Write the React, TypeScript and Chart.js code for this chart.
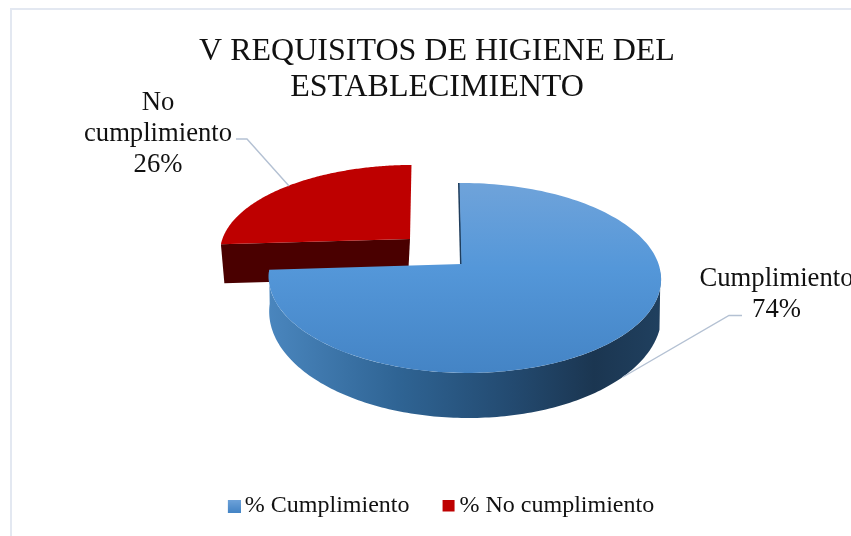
import React, { useEffect, useRef } from "react";
import { Chart, registerables } from "chart.js";

Chart.register(...registerables);

const titleLines = ["V REQUISITOS DE HIGIENE DEL", "ESTABLECIMIENTO"];
const legendLabels = ["% Cumplimiento", "% No cumplimiento"];
const sliceValues = [74, 26];
const sliceColors = ["#5497D9", "#BE0000"];
const sliceNameLines = [["Cumplimiento"], ["No", "cumplimiento"]];

const SERIF = "'Liberation Serif', 'Times New Roman', serif";
const K = -0.147;
const M = -0.0153;

type Geo = { ax: number; ay: number; rx: number; ry: number; s: number };
const blueTop: Geo = { ax: 461.5, ay: 264, rx: 194, ry: 92.9, s: 2.3 };
const blueBottom: Geo = { ax: 462, ay: 297.6, rx: 194, ry: 102.7, s: 2.3 };
const redTop: Geo = { ax: 410, ay: 239, rx: 190.5, ry: 85, s: -1.7 };
const redBottom: Geo = { ax: 408, ay: 278, rx: 185, ry: 84, s: -1.7 };

const project = (g: Geo, t: number) => {
  const u = Math.cos(t);
  const v = Math.sin(t);
  const w = 1 + K * v + M * u;
  return { x: g.ax + (g.rx * u + g.s * v) / w, y: g.ay + (g.ry * v) / w };
};

const traceArc = (ctx: CanvasRenderingContext2D, g: Geo, a: number, b: number, move: boolean) => {
  const steps = 160;
  for (let i = 0; i <= steps; i++) {
    const p = project(g, a + ((b - a) * i) / steps);
    if (i === 0 && move) ctx.moveTo(p.x, p.y);
    else ctx.lineTo(p.x, p.y);
  }
};

const drawFace = (ctx: CanvasRenderingContext2D, g: Geo, a: number, b: number, fill: string | CanvasGradient) => {
  ctx.beginPath();
  ctx.moveTo(g.ax, g.ay);
  traceArc(ctx, g, a, b, false);
  ctx.closePath();
  ctx.fillStyle = fill;
  ctx.fill();
};

const pie3d = {
  id: "pie3d",
  afterLayout(chart: any) {
    chart.legend.left += 15.5;
    chart.legend.right += 15.5;
    chart.titleBlock.left += 11.5;
    chart.titleBlock.right += 11.5;
  },
  beforeDraw(chart: any) {
    const ctx = chart.ctx;
    ctx.save();
    ctx.fillStyle = "#ffffff";
    ctx.fillRect(0, 0, chart.width, chart.height);
    ctx.strokeStyle = "#E3E8F1";
    ctx.lineWidth = 2;
    ctx.beginPath();
    ctx.moveTo(11, chart.height + 5);
    ctx.lineTo(11, 9);
    ctx.lineTo(chart.width + 5, 9);
    ctx.stroke();
    ctx.restore();
  },
  beforeDatasetDraw(chart: any) {
    const ctx: CanvasRenderingContext2D = chart.ctx;
    const arcs = chart.getDatasetMeta(0).data;
    const blue = arcs[0];
    const red = arcs[1];
    ctx.save();

    // red cut face and top
    const r0 = project(redTop, red.startAngle);
    const r1 = project(redBottom, red.startAngle);
    ctx.beginPath();
    ctx.moveTo(r0.x, r0.y);
    ctx.lineTo(redTop.ax, redTop.ay);
    ctx.lineTo(redBottom.ax, redBottom.ay);
    ctx.lineTo(r1.x, r1.y);
    ctx.closePath();
    ctx.fillStyle = "#4A0000";
    ctx.fill();
    drawFace(ctx, redTop, red.startAngle, red.endAngle, sliceColors[1]);

    // blue outer wall
    const sideGrad = ctx.createLinearGradient(268, 0, 661, 0);
    sideGrad.addColorStop(0, "#4A86BE");
    sideGrad.addColorStop(0.33, "#2F6494");
    sideGrad.addColorStop(0.62, "#234A70");
    sideGrad.addColorStop(0.83, "#1B3651");
    sideGrad.addColorStop(1, "#20405F");
    ctx.beginPath();
    traceArc(ctx, blueBottom, 0.3, blue.endAngle, true);
    traceArc(ctx, blueTop, blue.endAngle, 0.08, false);
    ctx.closePath();
    ctx.fillStyle = sideGrad;
    ctx.fill();

    // blue inner edge, then top
    const b0 = project(blueTop, blue.startAngle);
    ctx.beginPath();
    ctx.moveTo(b0.x - 0.5, b0.y);
    ctx.lineTo(blueTop.ax - 0.5, blueTop.ay);
    ctx.strokeStyle = "#1F3D5C";
    ctx.lineWidth = 2;
    ctx.stroke();

    const topGrad = ctx.createLinearGradient(0, 183, 0, 373);
    topGrad.addColorStop(0, "#6FA3DA");
    topGrad.addColorStop(0.45, "#5497D9");
    topGrad.addColorStop(1, "#4484C5");
    drawFace(ctx, blueTop, blue.startAngle, blue.endAngle, topGrad);

    ctx.restore();
    return false;
  },
  afterDatasetsDraw(chart: any) {
    const ctx: CanvasRenderingContext2D = chart.ctx;
    ctx.save();
    ctx.strokeStyle = "#B4C1D3";
    ctx.lineWidth = 1.4;
    ctx.beginPath();
    ctx.moveTo(236, 139);
    ctx.lineTo(247, 139);
    ctx.lineTo(289, 186);
    ctx.moveTo(742, 315.5);
    ctx.lineTo(729, 315.5);
    ctx.lineTo(623, 377);
    ctx.stroke();

    ctx.fillStyle = "#111111";
    ctx.font = `26.67px ${SERIF}`;
    ctx.textAlign = "center";
    ctx.textBaseline = "alphabetic";
    const total = sliceValues.reduce((a, b) => a + b, 0);
    const anchors = [
      { x: 776.5, y: 286 },
      { x: 158, y: 109.5 },
    ];
    sliceNameLines.forEach((lines, i) => {
      const all = [...lines, `${Math.round((sliceValues[i] / total) * 100)}%`];
      all.forEach((t, j) => ctx.fillText(t, anchors[i].x, anchors[i].y + j * 31));
    });
    ctx.restore();
  },
};

const makeMarker = (paint: (c: CanvasRenderingContext2D) => void) => {
  const c = document.createElement("canvas");
  c.width = 21;
  c.height = 13;
  paint(c.getContext("2d") as CanvasRenderingContext2D);
  return c;
};

export default function App() {
  const ref = useRef<HTMLCanvasElement | null>(null);
  useEffect(() => {
    const markers = [
      makeMarker((c) => {
        const g = c.createLinearGradient(0, 0, 0, 13);
        g.addColorStop(0, "#6FA3DA");
        g.addColorStop(1, "#4484C5");
        c.fillStyle = g;
        c.fillRect(8, 0, 13, 13);
      }),
      makeMarker((c) => {
        c.fillStyle = sliceColors[1];
        c.fillRect(8, 0, 12, 12);
      }),
    ];
    const chart = new Chart(ref.current as HTMLCanvasElement, {
      type: "pie",
      data: {
        labels: legendLabels,
        datasets: [{ data: sliceValues, backgroundColor: sliceColors, borderWidth: 0 }],
      },
      options: {
        responsive: false,
        animation: false,
        layout: { padding: { bottom: 22 } },
        plugins: {
          title: {
            display: true,
            text: titleLines,
            color: "#111111",
            font: { family: SERIF, size: 32, weight: "normal", lineHeight: 1.125 },
            padding: { top: 34, bottom: 0 },
          },
          legend: {
            display: true,
            position: "bottom",
            labels: {
              color: "#111111",
              font: { family: SERIF, size: 24 },
              usePointStyle: true,
              pointStyleWidth: 5,
              boxHeight: 13,
              padding: 33,
              generateLabels: (c: any) =>
                (Chart as any).overrides.pie.plugins.legend.labels
                  .generateLabels(c)
                  .map((it: any, i: number) => ({ ...it, pointStyle: markers[i] })),
            },
          },
          tooltip: { enabled: false },
        },
      },
      plugins: [pie3d as any],
    } as any);
    return () => chart.destroy();
  }, []);
  return (
    <div style={{ position: "fixed", left: 0, top: 0, width: 851, height: 536, overflow: "hidden", background: "#fff" }}>
      <canvas ref={ref} width={851} height={550} style={{ display: "block", width: 851, height: 550 }} />
    </div>
  );
}
